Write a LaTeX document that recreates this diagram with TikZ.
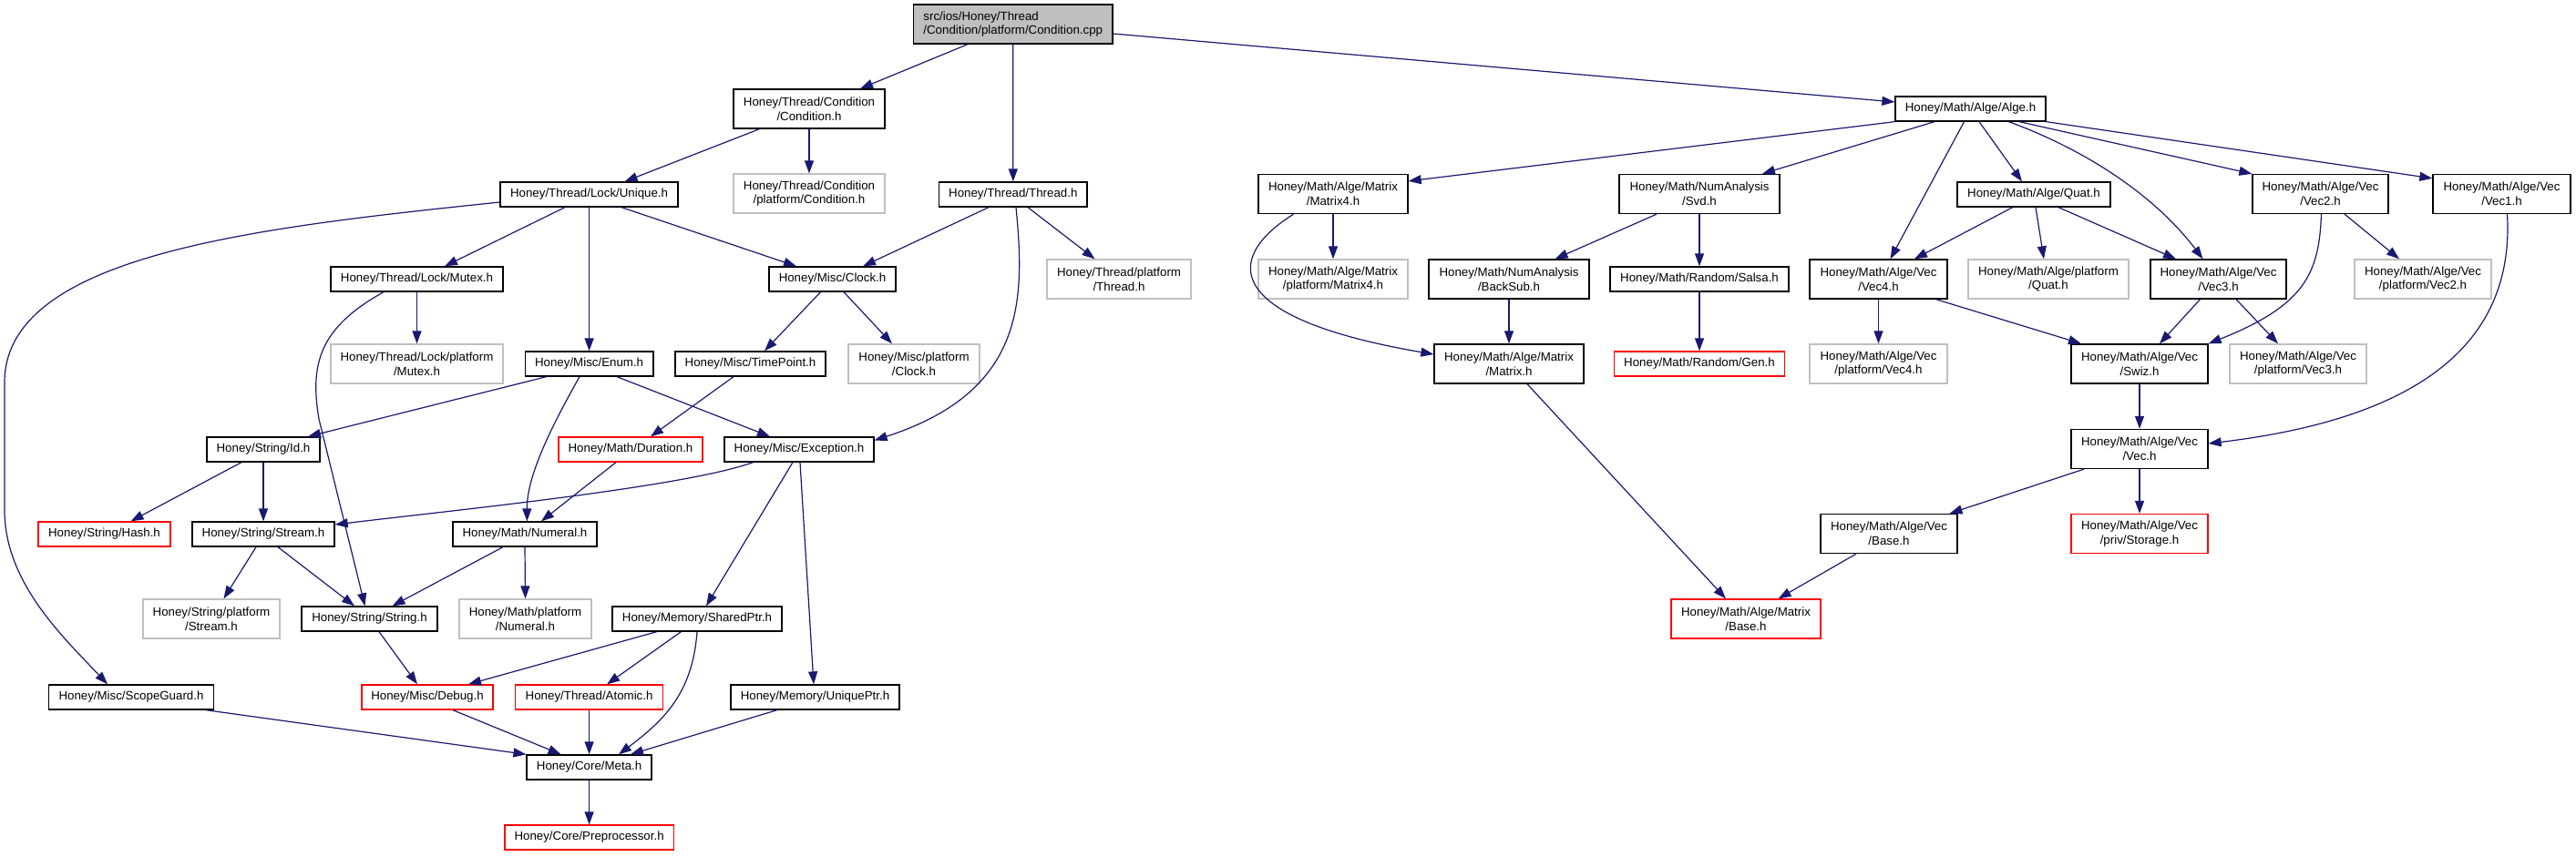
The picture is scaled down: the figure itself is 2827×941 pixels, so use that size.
\documentclass[tikz,border=0pt]{standalone}
\usepackage{fontspec}
\setmainfont{Liberation Sans}
\usetikzlibrary{arrows.meta}
\definecolor{edgeblue}{HTML}{191970}
\definecolor{grayborder}{HTML}{BFBFBF}
\definecolor{rootfill}{HTML}{BFBFBF}
\begin{document}
\begin{tikzpicture}[x=1pt,y=-1pt,
  nd/.style={rectangle, draw=black, line width=1.3pt, inner sep=0pt, align=center,
    font=\fontsize{13.3}{15.7}\selectfont, minimum height=27pt},
  two/.style={minimum height=43pt},
  gr/.style={draw=grayborder},
  rd/.style={draw=red},
  rt/.style={fill=rootfill, align=left},
  lk/.style={draw=edgeblue, line width=1.2pt, -{Triangle[length=14pt,width=10pt]}}
]
\path[use as bounding box] (0,0) rectangle (2827,941);

% ---------- nodes ----------
\node[nd,two,rt,minimum width=218.5pt] (root) at (1111.75,26.5) {src/ios/Honey/Thread\\/Condition/platform/Condition.cpp};
\node[nd,two,minimum width=166pt] (condh) at (888,119.5) {Honey/Thread/Condition\\/Condition.h};
\node[nd,two,gr,minimum width=166pt] (condplat) at (888,212.5) {Honey/Thread/Condition\\/platform/Condition.h};
\node[nd,minimum width=195pt] (unique) at (646.6,213.5) {Honey/Thread/Lock/Unique.h};
\node[nd,minimum width=162.4pt] (thread) at (1111.8,213.5) {Honey/Thread/Thread.h};
\node[nd,two,minimum width=164pt] (matrixf) at (1463,213) {Honey/Math/Alge/Matrix\\/Matrix4.h};
\node[nd,two,minimum width=176pt] (svd) at (1865,213) {Honey/Math/NumAnalysis\\/Svd.h};
\node[nd,minimum width=165pt] (alge) at (2162.5,119.5) {Honey/Math/Alge/Alge.h};
\node[nd,minimum width=168pt] (quat) at (2232,213.5) {Honey/Math/Alge/Quat.h};
\node[nd,two,minimum width=149pt] (vectwo) at (2546.5,213) {Honey/Math/Alge/Vec\\/Vec2.h};
\node[nd,two,minimum width=151pt] (vecone) at (2745.5,213) {Honey/Math/Alge/Vec\\/Vec1.h};

\node[nd,minimum width=189pt] (mutex) at (457.5,306.5) {Honey/Thread/Lock/Mutex.h};
\node[nd,minimum width=139pt] (clock) at (913.5,306.5) {Honey/Misc/Clock.h};
\node[nd,two,gr,minimum width=158pt] (threadplat) at (1228,306.5) {Honey/Thread/platform\\/Thread.h};
\node[nd,two,gr,minimum width=164pt] (matrixfplat) at (1463,306.5) {Honey/Math/Alge/Matrix\\/platform/Matrix4.h};
\node[nd,two,minimum width=176pt] (backsub) at (1656,306.5) {Honey/Math/NumAnalysis\\/BackSub.h};
\node[nd,minimum width=196pt] (salsa) at (1865,306.5) {Honey/Math/Random/Salsa.h};
\node[nd,two,minimum width=151pt] (vecfour) at (2061.5,306.5) {Honey/Math/Alge/Vec\\/Vec4.h};
\node[nd,two,gr,minimum width=176pt] (quatplat) at (2248,306.5) {Honey/Math/Alge/platform\\/Quat.h};
\node[nd,two,minimum width=149pt] (vecthree) at (2434.5,306.5) {Honey/Math/Alge/Vec\\/Vec3.h};
\node[nd,two,gr,minimum width=150pt] (vectwoplat) at (2659,306.5) {Honey/Math/Alge/Vec\\/platform/Vec2.h};

\node[nd,two,gr,minimum width=189pt] (mutexplat) at (457.5,399.5) {Honey/Thread/Lock/platform\\/Mutex.h};
\node[nd,minimum width=140.5pt] (enum) at (646.6,399.5) {Honey/Misc/Enum.h};
\node[nd,minimum width=165pt] (timepoint) at (823.5,399.5) {Honey/Misc/TimePoint.h};
\node[nd,two,gr,minimum width=144pt] (clockplat) at (1003,399.5) {Honey/Misc/platform\\/Clock.h};
\node[nd,two,minimum width=164pt] (matrix) at (1656,399.5) {Honey/Math/Alge/Matrix\\/Matrix.h};
\node[nd,rd,minimum width=186.5pt] (gen) at (1865,399.5) {Honey/Math/Random/Gen.h};
\node[nd,two,gr,minimum width=151pt] (vecfourplat) at (2061.5,399.5) {Honey/Math/Alge/Vec\\/platform/Vec4.h};
\node[nd,two,minimum width=150pt] (swiz) at (2348,399.5) {Honey/Math/Alge/Vec\\/Swiz.h};
\node[nd,two,gr,minimum width=150pt] (vecthreeplat) at (2522,399.5) {Honey/Math/Alge/Vec\\/platform/Vec3.h};

\node[nd,minimum width=124pt] (id) at (289,493.5) {Honey/String/Id.h};
\node[nd,rd,minimum width=158pt] (duration) at (692,493.5) {Honey/Math/Duration.h};
\node[nd,minimum width=164pt] (exception) at (877,493.5) {Honey/Misc/Exception.h};
\node[nd,two,minimum width=150pt] (vec) at (2348,493) {Honey/Math/Alge/Vec\\/Vec.h};

\node[nd,rd,minimum width=145pt] (hash) at (114.5,586.5) {Honey/String/Hash.h};
\node[nd,minimum width=156pt] (stream) at (289,586.5) {Honey/String/Stream.h};
\node[nd,minimum width=158pt] (numeral) at (576,586.5) {Honey/Math/Numeral.h};
\node[nd,two,minimum width=150pt] (vbase) at (2073,586) {Honey/Math/Alge/Vec\\/Base.h};
\node[nd,two,rd,minimum width=150pt] (storage) at (2348,586) {Honey/Math/Alge/Vec\\/priv/Storage.h};

\node[nd,two,gr,minimum width=150pt] (streamplat) at (232,679.5) {Honey/String/platform\\/Stream.h};
\node[nd,minimum width=149pt] (string) at (405.5,679.5) {Honey/String/String.h};
\node[nd,two,gr,minimum width=145pt] (numeralplat) at (576.5,679.5) {Honey/Math/platform\\/Numeral.h};
\node[nd,minimum width=186pt] (sharedptr) at (765,679.5) {Honey/Memory/SharedPtr.h};
\node[nd,two,rd,minimum width=164pt] (mbase) at (1916,679.5) {Honey/Math/Alge/Matrix\\/Base.h};

\node[nd,minimum width=180.5pt] (scopeguard) at (144,765.5) {Honey/Misc/ScopeGuard.h};
\node[nd,rd,minimum width=144pt] (debug) at (469,765.5) {Honey/Misc/Debug.h};
\node[nd,rd,minimum width=162pt] (atomic) at (646.6,765.5) {Honey/Thread/Atomic.h};
\node[nd,minimum width=185pt] (uniqueptr) at (894.5,765.5) {Honey/Memory/UniquePtr.h};
\node[nd,minimum width=137pt] (meta) at (646.6,842.5) {Honey/Core/Meta.h};
\node[nd,rd,minimum width=185.5pt] (preproc) at (646.6,919.5) {Honey/Core/Preprocessor.h};

% ---------- edges: left part ----------
\draw[lk] ([xshift=-49.75pt]root.south) -- ([xshift=56pt]condh.north);
\draw[lk] (root.south) -- (thread.north);
\draw[lk] ([yshift=-10.5pt]root.east) -- ([yshift=7.5pt]alge.west);
\draw[lk] ([xshift=-54.5pt]condh.south) -- ([xshift=39pt]unique.north);
\draw[lk] (condh.south) -- (condplat.north);
\draw[lk] ([xshift=-26.6pt]unique.south) -- ([xshift=30.5pt]mutex.north);
\draw[lk] (unique.south) -- (enum.north);
\draw[lk] ([xshift=35.4pt]unique.south) -- ([xshift=-39.5pt]clock.north);
\draw[lk] ([yshift=-8.5pt]unique.west) .. controls (280,250) and (5,280) .. (5,420)
   -- (5,560) .. controls (5,640) and (70,700) .. ([xshift=-26pt]scopeguard.north);
\draw[lk] ([xshift=-26.8pt]thread.south) -- ([xshift=33.5pt]clock.north);
\draw[lk] ([xshift=16.2pt]thread.south) -- ([xshift=-26.5pt]threadplat.north);
\draw[lk] ([xshift=3.2pt]thread.south) .. controls (1125,330) and (1125,430) .. ([yshift=10pt]exception.east);
\draw[lk] (mutex.south) -- (mutexplat.north);
\draw[lk] ([xshift=-36.5pt]mutex.south) .. controls (350,360) and (340,400) .. (350,460) -- ([xshift=-5pt]string.north);
\draw[lk] ([xshift=-13pt]clock.south) -- ([xshift=15.5pt]timepoint.north);
\draw[lk] ([xshift=12.5pt]clock.south) -- ([xshift=-24pt]clockplat.north);
\draw[lk] ([xshift=-47pt]enum.south) -- ([xshift=49pt]id.north);
\draw[lk] ([xshift=-10.6pt]enum.south) .. controls (610,460) and (578,520) .. ([xshift=2.4pt]numeral.north);
\draw[lk] ([xshift=30.4pt]enum.south) -- ([xshift=-32pt]exception.north);
\draw[lk] ([xshift=-18.5pt]timepoint.south) -- ([xshift=22pt]duration.north);
\draw[lk] ([xshift=-24pt]id.south) -- ([xshift=29pt]hash.north);
\draw[lk] (id.south) -- (stream.north);
\draw[lk] ([xshift=-16pt]duration.south) -- ([xshift=18pt]numeral.north);
\draw[lk] ([xshift=-50.5pt]exception.south) .. controls (750,535) and (500,560) .. ([yshift=10.5pt]stream.east);
\draw[lk] ([xshift=-7pt]exception.south) -- ([xshift=10pt]sharedptr.north);
\draw[lk] ([xshift=1pt]exception.south) -- ([xshift=-1.5pt]uniqueptr.north);
\draw[lk] ([xshift=-8pt]stream.south) -- ([xshift=13.5pt]streamplat.north);
\draw[lk] ([xshift=16pt]stream.south) -- ([xshift=-16.5pt]string.north);
\draw[lk] ([xshift=-24pt]numeral.south) -- ([xshift=25pt]string.north);
\draw[lk] (numeral.south) -- (numeralplat.north);
\draw[lk] ([xshift=10.5pt]string.south) -- ([xshift=-11pt]debug.north);
\draw[lk] ([xshift=-44.3pt]sharedptr.south) -- ([xshift=45pt]debug.north);
\draw[lk] ([xshift=-17.6pt]sharedptr.south) -- ([xshift=19.5pt]atomic.north);
\draw[lk] (sharedptr.south) .. controls (760,760) and (730,790) .. ([xshift=32.4pt]meta.north);
\draw[lk] ([xshift=82pt]scopeguard.south) -- (meta.north west);
\draw[lk] ([xshift=28pt]debug.south) -- ([xshift=-31pt]meta.north);
\draw[lk] (atomic.south) -- (meta.north);
\draw[lk] ([xshift=-41.8pt]uniqueptr.south) -- ([xshift=45.4pt]meta.north);
\draw[lk] (meta.south) -- (preproc.north);

% ---------- edges: right part ----------
\draw[lk] (alge.south west) -- ([yshift=-8pt]matrixf.north east);
\draw[lk] ([xshift=-39.5pt]alge.south) -- ([xshift=69pt]svd.north);
\draw[lk] ([xshift=-7pt]alge.south) -- ([xshift=13pt]vecfour.north);
\draw[lk] ([xshift=9.5pt]alge.south) -- ([xshift=-13pt]quat.north);
\draw[lk] ([xshift=42pt]alge.south) .. controls (2290,165) and (2365,215) .. ([xshift=-17pt]vecthree.north);
\draw[lk] ([xshift=53.5pt]alge.south) -- (vectwo.north west);
\draw[lk] (alge.south east) -- ([yshift=-5pt]vecone.north west);
\draw[lk] ([xshift=-43.4pt]matrixf.south) .. controls (1340,285) and (1345,350) .. ([yshift=10.5pt]matrix.west);
\draw[lk] (matrixf.south) -- (matrixfplat.north);
\draw[lk] ([xshift=-47pt]svd.south) -- ([xshift=50.6pt]backsub.north);
\draw[lk] (svd.south) -- (salsa.north);
\draw[lk] (backsub.south) -- (matrix.north);
\draw[lk] (salsa.south) -- (gen.north);
\draw[lk] ([xshift=-23.3pt]quat.south) -- ([xshift=39.5pt]vecfour.north);
\draw[lk] ([xshift=2pt]quat.south) -- ([xshift=-5pt]quatplat.north);
\draw[lk] ([xshift=27pt]quat.south) -- ([xshift=-46.5pt]vecthree.north);
\draw[lk] (vecfour.south) -- (vecfourplat.north);
\draw[lk] ([xshift=63pt]vecfour.south) -- ([xshift=-64pt]swiz.north);
\draw[lk] ([xshift=-20pt]vecthree.south) -- ([xshift=22pt]swiz.north);
\draw[lk] ([xshift=19.5pt]vecthree.south) -- ([xshift=-22pt]vecthreeplat.north);
\draw[lk] ([xshift=1pt]vectwo.south) .. controls (2545,300) and (2530,335) .. (swiz.north east);
\draw[lk] ([xshift=26.5pt]vectwo.south) -- ([xshift=-26pt]vectwoplat.north);
\draw[lk] ([xshift=6pt]vecone.south) .. controls (2760,380) and (2650,460) .. ([yshift=6pt]vec.east);
\draw[lk] (swiz.south) -- (vec.north);
\draw[lk] ([xshift=-61pt]vec.south) -- ([xshift=66.5pt]vbase.north);
\draw[lk] (vec.south) -- (storage.north);
\draw[lk] ([xshift=20pt]matrix.south) -- ([xshift=-22pt]mbase.north);
\draw[lk] ([xshift=-36pt]vbase.south) -- ([xshift=35.6pt]mbase.north);
\end{tikzpicture}
\end{document}
